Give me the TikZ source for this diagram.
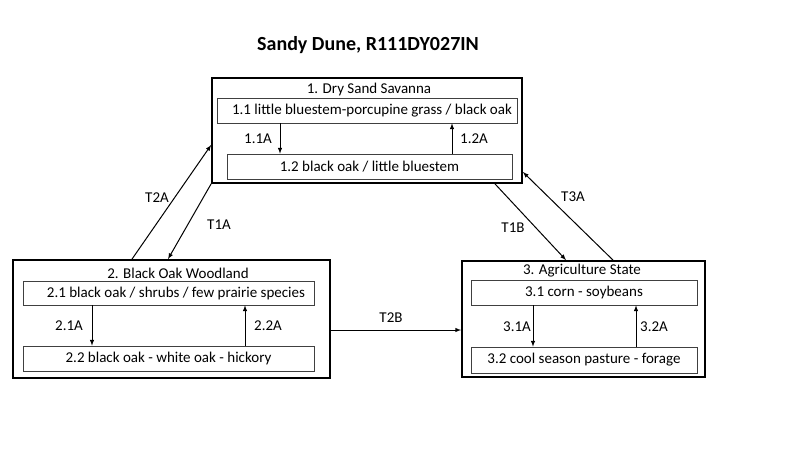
\documentclass[tikz,border=0pt]{standalone}
\usepackage{fontspec}
\setmainfont{Carlito}
\usetikzlibrary{arrows,positioning}

\begin{document}
\begin{tikzpicture}[x=1pt,y=-1pt,
    state/.style={draw,line width=1.8pt,minimum width=#1,inner sep=0pt},
    comm/.style={draw=black!75,line width=0.7pt,minimum height=25pt,inner sep=0pt,font=\fontsize{15}{17}\selectfont},
    lbl/.style={font=\fontsize{15}{17}\selectfont,inner sep=1pt},
    arr/.style={-latex,line width=1pt}]
  \useasboundingbox (0,0) rectangle (800,450);
  \node[font=\bfseries\fontsize{20}{23}\selectfont] (title) at (368,45) {Sandy Dune, R111DY027IN};
  % state 1
  \node[state=310pt,minimum height=105pt] (s1) at (367,130.5) {};
  \node[lbl] (s1t) at (369,89) {1. Dry Sand Savanna};
  \node[comm,minimum width=300pt] (b11) at (367,110.5) {\hspace*{10pt}1.1 little bluestem-porcupine grass / black oak};
  \node[comm,minimum width=285pt] (b12) at (369.5,166.5) {1.2 black oak / little bluestem};
  \draw[arr] (b11.south -| 280,0) -- (b12.north -| 280,0);
  \draw[arr] (b12.north -| 452,0) -- (b11.south -| 452,0);
  \node[lbl] (l11) at (258,139) {1.1A};
  \node[lbl] (l12) at (474,139) {1.2A};
  % state 2
  \node[state=317pt,minimum height=118pt] (s2) at (171.5,319) {};
  \node[lbl] (s2t) at (178,273) {2. Black Oak Woodland};
  \node[comm,minimum width=291pt,minimum height=24pt] (b21) at (168.5,293) {\hspace*{15pt}2.1 black oak / shrubs / few prairie species};
  \node[comm,minimum width=291pt] (b22) at (168.5,358.5) {2.2 black oak - white oak - hickory};
  \draw[arr] (b21.south -| 92,0) -- (b22.north -| 92,0);
  \draw[arr] (b22.north -| 245,0) -- (b21.south -| 245,0);
  \node[lbl] (l21) at (69,326) {2.1A};
  \node[lbl] (l22) at (268,326) {2.2A};
  % state 3
  \node[state=243pt,minimum height=116pt] (s3) at (583.5,319) {};
  \node[lbl] (s3t) at (582,271) {3. Agriculture State};
  \node[comm,minimum width=226pt] (b31) at (584,292.5) {3.1 corn - soybeans};
  \node[comm,minimum width=226pt,minimum height=26pt] (b32) at (584,360) {3.2 cool season pasture - forage};
  \draw[arr] (b31.south -| 533,0) -- (b32.north -| 533,0);
  \draw[arr] (b32.north -| 636,0) -- (b31.south -| 636,0);
  \node[lbl] (l31) at (517,327) {3.1A};
  \node[lbl] (l32) at (654,327) {3.2A};
  % transitions
  \draw[arr] (s2.north -| 132,0) -- (s1.west |- 0,145);
  \draw[arr] (s1.south west) -- (s2.north -| 168,0);
  \draw[arr] (s1.south -| 495,0) -- (s3.north -| 566,0);
  \draw[arr] (s3.north -| 613,0) -- (s1.east |- 0,172);
  \draw[arr] (s2.east |- 0,330) -- (s3.west |- 0,330);
  \node[lbl] (t2a) at (157,198) {T2A};
  \node[lbl] (t1a) at (219,225) {T1A};
  \node[lbl] (t1b) at (513,228) {T1B};
  \node[lbl] (t3a) at (573,197) {T3A};
  \node[lbl] (t2b) at (391,318) {T2B};
\end{tikzpicture}
\end{document}
